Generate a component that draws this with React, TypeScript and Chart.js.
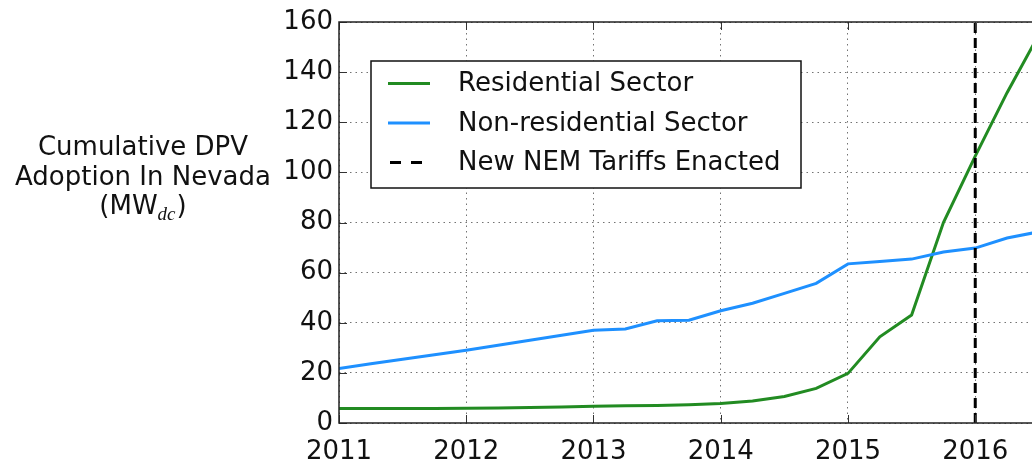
import React, { useEffect, useRef } from "react";
import { Chart, registerables } from "chart.js";

Chart.register(...registerables);

const quarters = [
  2011, 2011.25, 2011.5, 2011.75, 2012, 2012.25, 2012.5, 2012.75, 2013, 2013.25, 2013.5, 2013.75,
  2014, 2014.25, 2014.5, 2014.75, 2015, 2015.25, 2015.5, 2015.75, 2016, 2016.25, 2016.5,
];
const residential = [
  5.8, 5.8, 5.8, 5.8, 5.9, 6.0, 6.2, 6.4, 6.7, 6.9, 7.0, 7.3,
  7.8, 8.8, 10.6, 13.8, 19.8, 34.4, 43.1, 80, 106.5, 131.8, 155,
];
const nonResidential = [
  21.7, 23.6, 25.4, 27.2, 29.0, 31.0, 33.0, 35.0, 37.0, 37.5, 40.8, 41.0,
  44.8, 47.8, 51.7, 55.7, 63.5, 64.4, 65.4, 68.2, 69.8, 73.8, 76.3,
];
const nemYear = 2016;
const xTicks = [2011, 2012, 2013, 2014, 2015, 2016];
const yTicks = [0, 20, 40, 60, 80, 100, 120, 140, 160];
const seriesLabels = ["Residential Sector", "Non-residential Sector", "New NEM Tariffs Enacted"];
const titleLines = ["Cumulative DPV", "Adoption In Nevada"];

const GREEN = "#228B22";
const BLUE = "#1E90FF";
const FONT = "'DejaVu Sans', sans-serif";

const decorPlugin = {
  id: "decor",
  afterDatasetsDraw(chart: any) {
    const ctx = chart.ctx;
    const { left, right, top, bottom } = chart.chartArea;
    const xs = chart.scales.x;
    const ys = chart.scales.y;
    ctx.save();
    // inward ticks
    ctx.strokeStyle = "#333";
    ctx.lineWidth = 1;
    ctx.beginPath();
    xTicks.forEach((v) => {
      const px = Math.round(xs.getPixelForValue(v)) + 0.5;
      ctx.moveTo(px, bottom);
      ctx.lineTo(px, bottom - 8);
      ctx.moveTo(px, top);
      ctx.lineTo(px, top + 8);
    });
    yTicks.forEach((v) => {
      const py = Math.round(ys.getPixelForValue(v)) + 0.5;
      ctx.moveTo(left, py);
      ctx.lineTo(left + 8, py);
    });
    ctx.stroke();
    // frame
    ctx.strokeStyle = "#222";
    ctx.lineWidth = 1.5;
    ctx.beginPath();
    ctx.moveTo(chart.width + 5, top);
    ctx.lineTo(left, top);
    ctx.lineTo(left, bottom);
    ctx.lineTo(chart.width + 5, bottom);
    ctx.stroke();

    // legend
    const bx = 371, by = 61, bw = 430, bh = 127;
    ctx.fillStyle = "#fff";
    ctx.fillRect(bx, by, bw, bh);
    ctx.strokeStyle = "#111";
    ctx.lineWidth = 1.5;
    ctx.strokeRect(bx, by, bw, bh);
    const rows = [83.5, 123, 162.5];
    const colors = [GREEN, BLUE, "#000"];
    ctx.font = `26px ${FONT}`;
    ctx.textBaseline = "middle";
    ctx.textAlign = "left";
    rows.forEach((ry, i) => {
      ctx.strokeStyle = colors[i];
      ctx.lineWidth = 3;
      ctx.beginPath();
      if (i === 2) {
        ctx.setLineDash([11, 10]);
        ctx.moveTo(390, ry);
        ctx.lineTo(422, ry);
      } else {
        ctx.setLineDash([]);
        ctx.moveTo(388, ry);
        ctx.lineTo(430, ry);
      }
      ctx.stroke();
      ctx.setLineDash([]);
      ctx.fillStyle = "#111";
      ctx.fillText(seriesLabels[i], 458, ry + 1);
    });

    // y-axis title
    const cx = 143;
    ctx.fillStyle = "#111";
    ctx.textAlign = "center";
    ctx.textBaseline = "alphabetic";
    ctx.font = `26px ${FONT}`;
    ctx.fillText(titleLines[0], cx, 155);
    ctx.fillText(titleLines[1], cx, 185);
    const p1 = "(MW";
    const sub = "dc";
    const p2 = ")";
    ctx.font = `26px ${FONT}`;
    const w1 = ctx.measureText(p1).width;
    const w3 = ctx.measureText(p2).width;
    ctx.font = `italic 19px 'Liberation Serif', serif`;
    const w2 = ctx.measureText(sub).width;
    let sx = cx - (w1 + w2 + w3 + 1) / 2;
    ctx.textAlign = "left";
    ctx.font = `26px ${FONT}`;
    ctx.fillText(p1, sx, 213.5);
    sx += w1;
    ctx.font = `italic 19px 'Liberation Serif', serif`;
    ctx.fillText(sub, sx, 220);
    sx += w2 + 1;
    ctx.font = `26px ${FONT}`;
    ctx.fillText(p2, sx, 213.5);
    ctx.restore();
  },
};

export default function App() {
  const canvasRef = useRef<HTMLCanvasElement | null>(null);
  useEffect(() => {
    document.body.style.margin = "0";
    const canvas = canvasRef.current;
    if (!canvas) return;
    const mk = (ys: number[]) => quarters.map((q, i) => ({ x: q, y: ys[i] }));
    const chart = new Chart(canvas, {
      type: "line",
      data: {
        datasets: [
          {
            label: seriesLabels[2],
            data: [
              { x: nemYear, y: 0 },
              { x: nemYear, y: 160 },
            ],
            borderColor: "#000",
            borderWidth: 3,
            borderDash: [10, 5],
            pointRadius: 0,
            order: 0,
          },
          {
            label: seriesLabels[1],
            data: mk(nonResidential),
            borderColor: BLUE,
            borderWidth: 3,
            pointRadius: 0,
            tension: 0,
            order: 1,
          },
          {
            label: seriesLabels[0],
            data: mk(residential),
            borderColor: GREEN,
            borderWidth: 3,
            pointRadius: 0,
            tension: 0,
            order: 2,
          },
        ],
      },
      options: {
        animation: false,
        responsive: false,
        devicePixelRatio: 1,
        layout: { padding: { top: 22, right: 0, left: 0, bottom: 0 } },
        plugins: { legend: { display: false }, tooltip: { enabled: false }, title: { display: false } },
        scales: {
          x: {
            type: "linear",
            min: 2011,
            max: 2016.446,
            afterBuildTicks: (s: any) => {
              s.ticks = xTicks.map((v) => ({ value: v }));
            },
            afterFit: (s: any) => {
              s.height = 43;
            },
            grid: { color: "rgba(0,0,0,0.55)", lineWidth: 1, drawTicks: false },
            border: { display: false, dash: [1.5, 4] },
            ticks: {
              padding: 14,
              color: "#111",
              font: { family: FONT, size: 26 },
              maxRotation: 0,
              autoSkip: false,
              callback: (v: any) => String(v),
            },
          },
          y: {
            min: 0,
            max: 160,
            afterBuildTicks: (s: any) => {
              s.ticks = yTicks.map((v) => ({ value: v }));
            },
            afterFit: (s: any) => {
              s.width = 339;
            },
            grid: { color: "rgba(0,0,0,0.55)", lineWidth: 1, drawTicks: false },
            border: { display: false, dash: [1.5, 4] },
            ticks: {
              padding: 6,
              color: "#111",
              font: { family: FONT, size: 26 },
              callback: (v: any) => String(v),
            },
          },
        },
      },
      plugins: [decorPlugin],
    });
    return () => chart.destroy();
  }, []);
  return (
    <div style={{ width: 1032, height: 466 }}>
      <canvas ref={canvasRef} width={1032} height={466} style={{ display: "block", width: 1032, height: 466 }} />
    </div>
  );
}
